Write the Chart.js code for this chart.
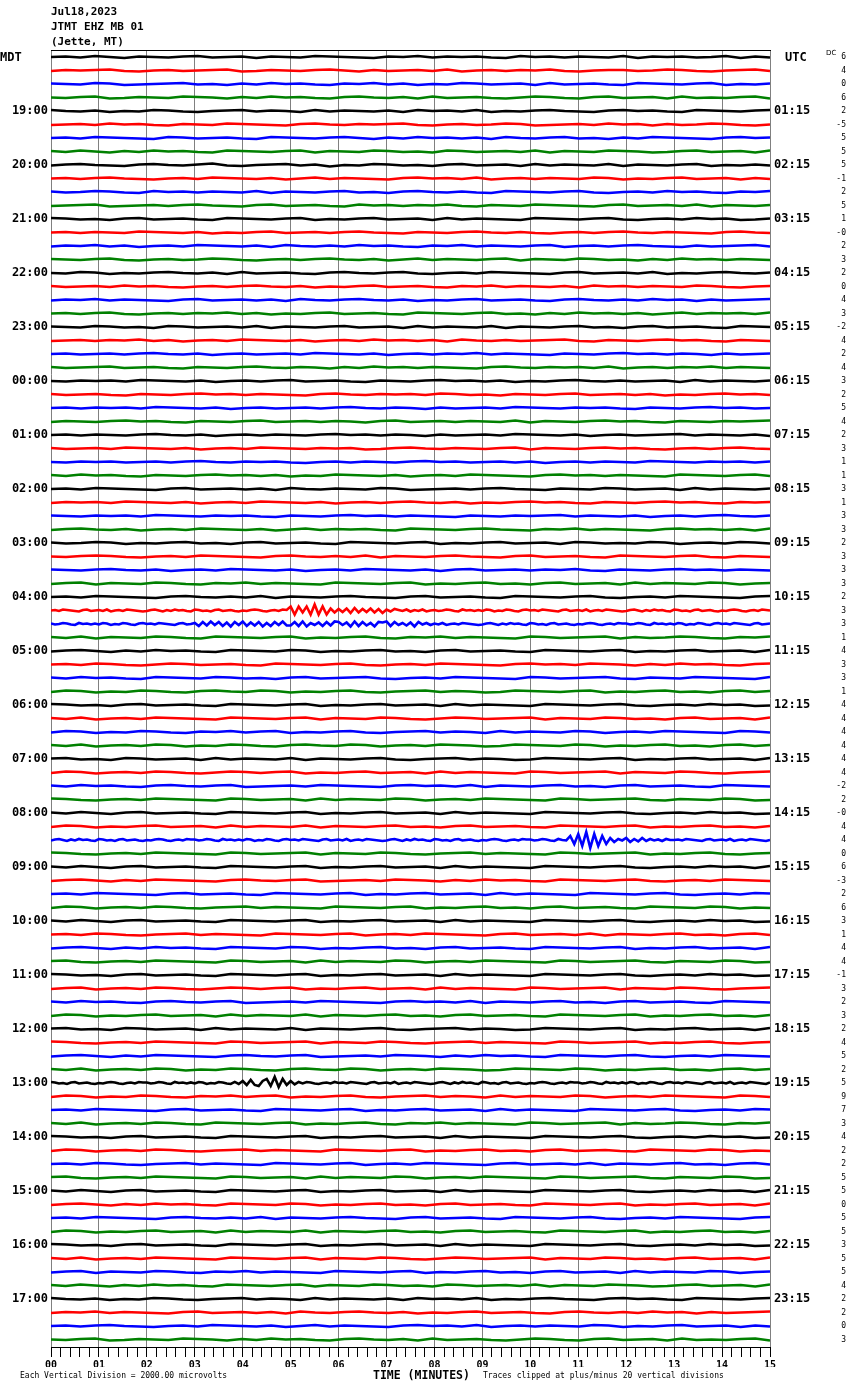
<!DOCTYPE html>
<html>
<head>
<meta charset="utf-8">
<script src="https://cdn.jsdelivr.net/npm/chart.js@4.4.1/dist/chart.umd.min.js"></script>
<style>
  html, body { margin: 0; padding: 0; background: #fff; }
  #wrap { position: relative; width: 850px; height: 1390px; overflow: hidden; background: #fff; }
  #c { position: absolute; left: 0; top: 0; }
  .t { position: absolute; white-space: nowrap; line-height: 1; color: #000; font-family: "DejaVu Sans Mono", monospace; }
  .hd { font-size: 11px; font-weight: bold; left: 51px; }
  .big { font-size: 12px; font-weight: bold; }
  .sm { font-size: 8px; }
</style>
</head>
<body>
<div id="wrap">
  <canvas id="c" width="850" height="1390" style="width:850px;height:1390px"></canvas>
  <div class="t hd" style="top:6px">Jul18,2023</div>
  <div class="t hd" style="top:20.5px">JTMT EHZ MB 01</div>
  <div class="t hd" style="top:35.5px">(Jette, MT)</div>
  <div class="t big" style="left:0px;top:51px">MDT</div>
  <div class="t big" style="left:785px;top:51px">UTC</div>
  <div class="t" style="left:826px;top:49.5px;font-size:7px;font-family:'DejaVu Sans',sans-serif">DC</div>
  <div class="t sm" style="left:20px;top:1372px">Each Vertical Division = 2000.00 microvolts</div>
  <div class="t" style="left:373px;top:1369.5px;font-size:11.5px;font-weight:bold">TIME (MINUTES)</div>
  <div class="t sm" style="left:483px;top:1372px">Traces clipped at plus/minus 20 vertical divisions</div>
</div>
<script>
// ---- data ----
const minuteLabels = ['00','01','02','03','04','05','06','07','08','09','10','11','12','13','14','15'];
const mdtLabels = ['19:00','20:00','21:00','22:00','23:00','00:00','01:00','02:00','03:00','04:00','05:00','06:00',
  '07:00','08:00','09:00','10:00','11:00','12:00','13:00','14:00','15:00','16:00','17:00'];
const utcLabels = ['01:15','02:15','03:15','04:15','05:15','06:15','07:15','08:15','09:15','10:15','11:15','12:15',
  '13:15','14:15','15:15','16:15','17:15','18:15','19:15','20:15','21:15','22:15','23:15'];
const dcValues = ['6','4','0','6','2','-5','5','5','5','-1','2','5','1','-0','2','3','2','0','4','3',
  '-2','4','2','4','3','2','5','4','2','3','1','1','3','1','3','3','2','3','3','3',
  '2','3','3','1','4','3','3','1','4','4','4','4','4','4','-2','2','-0','4','4','0',
  '6','-3','2','6','3','1','4','4','-1','3','2','3','2','4','5','2','5','9','7','3',
  '4','2','2','5','5','0','5','5','3','5','5','4','2','2','0','3'];
// Trace samples, one string per 15-minute line, evenly spaced across the line.
// Lowercase letter: deflection in half-pixel steps ('i' = 0, 'j' = +0.5 px, 'h' = -0.5 px ...).
// Uppercase letter: deflection in 2-pixel steps ('I' = 0, 'J' = +2 px, 'H' = -2 px ...).
const traceData = [
"ijhkigjihjkhijgjihkjihgjikhjijhgkijhjihkgjijhikgjh",
"hjijkhgijhijkghjihjkigjhijhkgijhjikhgijjhikjhgijkh",
"jihkjghijkhigjhkijhgjikhjgihkjhijgkhijhgkjihjkgihj",
"ihjkghjihkjigjhkijhgjkihjgkhijhgikjhgjkhijgkhihjkg",
"kihjgihkjhgijkhjigkhjihjgkijhkgihjkihgjkijhgkjihjk",
"hijhkijhgjihkjihgjkihjijkhgijhikjghijhkijgjhikjhgi",
"ijhkjihgkjhijhgkjihjkigjhkijhjgkihjkhigjhkjihgjkij",
"jhkigjhkijhgkjihjkgjihkjhigkjhijhkgjihkjighjkhijgk",
"hjkihgjkihjlhgijkhjfihkjhigjkhijgkhjihkgjihjkgihjh",
"ijhjkihgijhkjihjgikhjihgjkijhkgijhjihkjgihjkhijgjh",
"jhikjhgkijhjihkgjihjkhigjkihjhgkjihjkhgijhkijhgjik",
"hijkghijhjkihgjkhijhgkijhjikhgjihkjihgjkhijhkgjihj",
"kjhigjkhijhgkjihjkgihjkhijgkhjihgkjihjkhgijhkijghj",
"ijhjihkjihjgihjkhijhjkihgjihjkihjhgijhjkihjihgjkih",
"hjikhjgijhkjihjgkihjhkijhgjikhjihjkgijhjkihgjhijkh",
"jihjkhgijhikjhgijhjkihjgikhjihjkgjihkjhigjhkijhjih",
"ihkjgihjkihjgkhijhgjkihjkhgijhkjihgjkhijhkgihjkihj",
"jhijhkijhgijhjkihjgihjkhijhgjikhjihjgkijhjihkjhgij",
"hjikhjihgjkhijhjgkihjkihjgihjkhijhgjkihjhkijgjhijk",
"ijhjkhgijhjikhjgihjkhijhgkjihjkhigjhkijhjgikhjijhk",
"jihkjhigkjhijhkgjihjkhijgkhjihkgjihjkhigjkhijhgkji",
"hijhjikhjgijhkjihjgijhkijhjgkihjhijkhgjihjkijhgjih",
"ijhijhjkihjgijhijhkjihjgijhjikhjihgjihjkijhjigjhij",
"jhijkhijhgjihjkihjigjhkijhjihgjkihjijhkgijhjikhjih",
"ihjijhkjihjgijhjkhijhgjihjkijhjgihjkihjhijgkhjihj",
"jhijhgjihjkijhjihgjkihjijhkjhigjihjkhijhjgihjkijh",
"ijhjijhkjihjgijhijhjkihjigjhijhkjihjijhgjihjkijhi",
"hjihjkijhgjihjkhijhjigjkhijhjihkgjihjkijhgjihjijk",
"ijhjihjkihjgijhjihjkijhjigjhijhkjihjgijhijkhjihjg",
"jhijhkjihjgijhkjihjijghjkihjihjkgjihjkijhgijhjkih",
"ihjijhijhjkihjijhgijhjihjkijhijhjgijhjihkjihjijhj",
"jhkijhgjihjkijhjgihkjihjgijhkjihgjkijhjihgkjihjkh",
"ijhkjihgjkhijhjgkihjihkjghijhjkihgjihkjhijgkhjihj",
"hjijhkjihjgijhkjihjgijhjkihjgihjkijhgjihjkijhgjij",
"jihjijhkjihjijhgjihjkijhjihgjihjijkhjihjgijhjkihj",
"hjkihjgijhkjihjgikhjijhgkjihjkihgjikhjihgjkijhjgk",
"jhikjgihjkhigjkhijhgkjihjkgihjkhijgkjhihkjgijhkjh",
"ihjkjhgijhkjihgjkihjhkgjihjkihgjkhijhgkjihjkhgjih",
"jihjkihjgijhkjihjgijhkjihjgjkhijhjikhgjihjkijhjih",
"hjkgjihkjhgjikhjihgkjihjkgihjkhigjkhijgkhjihkjgij",
"ijhkjihgjkihjhkgjihjkihgjkhijhgkjihjkhgijhkjihgjk",
// 04:15 red line with local event near minute 5
"ijhkjihgjkhi jhkgijhkjihg hjkigjhkijhg kjhigjkhijhg ihjkjhgijhkj KGKHKGLGKGJH lfmdnelfmeld kgljhkgjhkgi jhikjhgkijhj hkjgihkjhgjk ijhkjihgjkhi jhkgijhkjihg hjkigjhkijhg kjhigjkhijhg ihjkjhgijhkj i",
// 04:30 blue line, elevated noise minutes 3-8
"jhikjhgkijhj hkjgihkjhgjk ijhkjihgjkhi kemfngmeldmg nelfmdkemgnf fmendkglemfn mgldnemfkdml nemgkfldmhkg jhkgijhkjihg hjkigjhkijhg kjhigjkhijhg ihjkjhgijhkj jhikjhgkijhj hkjgihkjhgjk ijhkjihgjkhi j",
"jhkgjihkjhgkjihjkgihjkhgjikhjihgkjhijkgjhikjhgjik",
"hjkigjhkijhgkjihkjgihjkhigjkhijhgkjihjkgihjkhijgk",
"ijhkjhgikjhijhgkjihjkhgijhkjihgjkijhkjigjhkijhgjk",
"jhkijhgkjihkjhigjkhijkhgijhkjihgkjhijkhgjihkjihgk",
"hkjgihkjhgjkihkjgihjkhgijkhjighkjihjkgihjkhigjkhj",
"kjhigjkhijhgkjihjkgihjkhijgkhjihgkjihjkhgijhkijgh",
"jhkgijhkjihgkjihjkgjihkjhgikjhijkgjihkjhigjkhijgk",
"hkjgihkjhgjikhjkgihjkhgijkhjigkhjihkjgijhkjihgkjh",
"jhkgijhkjgihkjhgjkihkjgijhkjighkjihkjgihjkhigjkhj",
"jkhigkjhijgkhjihkgjihjkhgijkhjighkjihjkgihjkhijgk",
"hkjgijhkjhgikjhjkgihjkhijgkhjihgkjhijkgjihkjhgijk",
"jhkijhgjkihjkghijhkjihgjkijhkgjihjkhigjkhijhgkjih",
"kjhgijhkjihgkjhijgkhjihkjgijhkjihgkjhijkhgjihkjgh",
"jhkigjkhijhgkjihjkgihjkhijgkhjihgkjihjkhgijhkijgh",
"hkjgihjkhijgkhjihkgjihjkhigjkhijhgkjihjkgihjkhigj",
// 08:30 blue line with event near minute 11
"hjkigjhkijhg kjhigjkhijhg ihjkjhgijhkj jhikjhgkijhj hkjgihkjhgjk ijhkjihgjkhi jhkgijhkjihg hjkigjhkijhg kjhigjkhijhg ihjkjhgijhkj jhikjhgkihKG LFMELFKGJHkh mekfmgkhjgki ijhkjihgjkhi jhkgijhkjihg i",
"kjhgijhkjihgkjhijkgjihkjhgijkhjihgkjhijkgihjkhgij",
"jhkigjkhijhgkjihjkgihjkhijgkhjihgkjihjkhgijhkijgk",
"hjkigjhkjihgjkihjkghijhkjigjhkijhgkjihjkhgijhkjih",
"ijhkjihgjkhijhgkjihjkgihjkhijgkhjihgkjihjkhgijhkj",
"hkjgijhkjhgijkhjihgkjihjkgihjkhigjkhijhgkjihkjgih",
"jhkigjkhijhgkjihjkgihjkhijgkhjihgkjihjkhgijhkijgh",
"ijhkjhgijkhjihgkjihjkgijhkjihgjkhijhkgjihjkhigjkh",
"hjkigjhkijhgkjihkjgihjkhigjkhijhgkjihjkgihjkhijgk",
"jkhgijhkjihgkjhijgkhjihkjgijhkjihgkjhijkhgjihkjgh",
"kjhigjkhijhgkjihjkgihjkhijgkhjihgkjihjkhgijhkijgh",
"hjkgijhkjhgikjhjkgihjkhijgkhjihgkjhijkgjihkjhgijk",
"jhkijhgjkihjkghijhkjihgjkijhkgjihjkhigjkhijhgkjih",
"hkjgihjkhijgkhjihkgjihjkhigjkhijhgkjihjkgihjkhigj",
"jkhigkjhijgkhjihkgjihjkhgijkhjighkjihjkgihjkhijgk",
"kjhgijhkjihgkjhijkgjihkjhgijkhjihgkjhijkgihjkhgij",
"hjkigjhkjihgjkihjkghijhkjigjhkijhgkjihjkhgijhkjih",
"jhkgijhkjgihkjhgjkihkjgijhkjighkjihkjgihjkhigjkhj",
// 13:00 black line with event near minute 4.8
"kjhigjkhijhg ihjkjhgijhkj jhikjhgkijhj hkjgihkjhgkg meoecmKcLGKe mfkhkjhgijhk ijhkjihgjkhi jhkgijhkjihg hjkigjhkijhg kjhigjkhijhg ihjkjhgijhkj jhikjhgkijhj hkjgihkjhgjk ijhkjihgjkhi jhkgijhkjihg j",
"hkjgihkjhgjikhjkgihjkhgijkhjigkhjihkjgijhkjihgkjh",
"ijhkjihgjkhijhgkjihjkgihjkhijgkhjihgkjihjkhgijhkj",
"jhkgijhkjhgkjihjkgihjkhgjikhjihgkjhijkgjhikjhgjik",
"kjhigjkhijhgkjihjkgihjkhijgkhjihgkjihjkhgijhkijgh",
"hkjgijhkjhgijkhjihgkjihjkgihjkhigjkhijhgkjihkjgih",
"ijhkjhgijkhjihgkjihjkgijhkjihgjkhijhkgjihjkhigjkh",
"jkhgijhkjihgkjhijgkhjihkjgijhkjihgkjhijkhgjihkjgh",
"jhkigjkhijhgkjihjkgihjkhijgkhjihgkjihjkhgijhkijgk",
"hjkigjhkijhgkjihkjgihjkhigjkhijhgkjihjkgihjkhijgk",
"ijhkjihgjkihjhkgjihjkihgjkhijhgkjihjkhgijhkjihgjk",
"hkjgihjkhijgkhjihkgjihjkhigjkhijhgkjihjkgihjkhigj",
"kjhigjkhijhgkjihjkgihjkhijgkhjihgkjihjkhgijhkijgh",
"jhkgijhkjihgkjihjkgjihkjhgikjhijkgjihkjhigjkhijgk",
"hjkgjihkjhgjikhjihgkjihjkgihjkhigjkhijgkhjihkjgij",
"jhkigjhkijhgkjihjkgjihkjhigkjhijhkgjihkjighjkhijgk",
"kihjgihkjhgijkhjigkhjihjgkijhkgihjkihgjkijhgkjihjk",
"hjikhjihgjkhijhjgkihjkihjgihjkhijhgjkihjhkijgjhijk",
"ijhjkihgijhkjihjgikhjihgjkijhkgijhjihkjgihjkhijgjh",
"ihjkghjihkjigjhkijhgjkihjgkhijhgikjhgjkhijgkhihjkg"
];
const traceColors = ['#000000', '#ff0000', '#0000ff', '#008000'];
const PX_PER_LINE = 13.5;        // trace spacing in pixels (one line = 1 y unit)
const SMALL_STEP_PX = 0.5, BIG_STEP_PX = 2;
const MINUTES = 15;

// ---- build datasets ----
function letterToPx(ch) {
  const c = ch.charCodeAt(0);
  return c >= 97 ? (c - 105) * SMALL_STEP_PX : (c - 73) * BIG_STEP_PX;
}
function decodeTrace(str, row) {
  const s = str.replace(/\s+/g, '');
  const n = s.length;
  const pts = [];
  for (let k = 0; k < n; k++) {
    pts.push({ x: MINUTES * k / (n - 1), y: row - letterToPx(s[k]) / PX_PER_LINE });
  }
  return pts;
}
const datasets = traceData.map((str, i) => ({
  data: decodeTrace(str, i),
  borderColor: traceColors[i % 4],
  borderWidth: 2.6,
  pointRadius: 0,
  fill: false,
  tension: 0,
  xAxisID: 'x',
  yAxisID: 'y'
}));

const Y_MIN = -0.52, Y_MAX = 95.56;
const hourRows = mdtLabels.map((_, k) => (k + 1) * 4);
const allRows = dcValues.map((_, k) => k);
const isWhole = v => Math.abs(v - Math.round(v)) < 1e-6;

new Chart(document.getElementById('c'), {
  type: 'line',
  data: { datasets },
  options: {
    responsive: false,
    devicePixelRatio: 1,
    animation: false,
    events: [],
    layout: { padding: { left: 0, right: 4, top: 50, bottom: 23 } },
    plugins: { legend: { display: false }, tooltip: { enabled: false }, title: { display: false } },
    scales: {
      x: {
        type: 'linear', position: 'bottom', min: 0, max: MINUTES, z: 1,
        afterBuildTicks: s => { s.ticks = []; for (let k = 0; k <= MINUTES * 5; k++) s.ticks.push({ value: k / 5 }); },
        afterFit: s => { s.height = 20; },
        grid: {
          color: c => (c.tick && isWhole(c.tick.value)) ? '#808080' : 'rgba(0,0,0,0)',
          lineWidth: 1, drawTicks: true, tickLength: 10, tickColor: '#000', tickWidth: 1
        },
        border: { display: true, color: '#000', width: 1 },
        ticks: {
          autoSkip: false, maxRotation: 0, padding: 2, color: '#000',
          font: { family: 'DejaVu Sans Mono', size: 10, weight: 'bold' },
          callback: v => isWhole(v) ? minuteLabels[Math.round(v)] : ''
        }
      },
      xTop: {
        type: 'linear', position: 'top', min: 0, max: MINUTES,
        afterFit: s => { s.height = 0; },
        grid: { display: false, drawTicks: false },
        ticks: { display: false },
        border: { display: true, color: '#000', width: 1 }
      },
      y: {
        type: 'linear', position: 'left', reverse: true, min: Y_MIN, max: Y_MAX,
        afterBuildTicks: s => { s.ticks = hourRows.map(v => ({ value: v })); },
        afterFit: s => { s.width = 51; },
        grid: { display: false, drawTicks: false },
        border: { display: false },
        ticks: {
          autoSkip: false, padding: 3, color: '#000',
          font: { family: 'DejaVu Sans Mono', size: 12, weight: 'bold' },
          callback: v => mdtLabels[Math.round(v) / 4 - 1]
        }
      },
      yUtc: {
        type: 'linear', position: 'right', weight: 1, reverse: true, min: Y_MIN, max: Y_MAX,
        afterBuildTicks: s => { s.ticks = hourRows.map(v => ({ value: v })); },
        afterFit: s => { s.width = 56; },
        grid: { display: false, drawTicks: false },
        border: { display: false },
        ticks: {
          autoSkip: false, padding: 4, color: '#000',
          font: { family: 'DejaVu Sans Mono', size: 12, weight: 'bold' },
          callback: v => utcLabels[Math.round(v) / 4 - 1]
        }
      },
      yDc: {
        type: 'linear', position: 'right', weight: 2, reverse: true, min: Y_MIN, max: Y_MAX,
        afterBuildTicks: s => { s.ticks = allRows.map(v => ({ value: v })); },
        afterFit: s => { s.width = 20; },
        grid: { display: false, drawTicks: false },
        border: { display: false },
        ticks: {
          autoSkip: false, padding: 0, crossAlign: 'far', color: '#000',
          font: { family: 'DejaVu Sans Mono', size: 8 },
          callback: v => dcValues[Math.round(v)]
        }
      }
    }
  }
});
</script>
</body>
</html>
